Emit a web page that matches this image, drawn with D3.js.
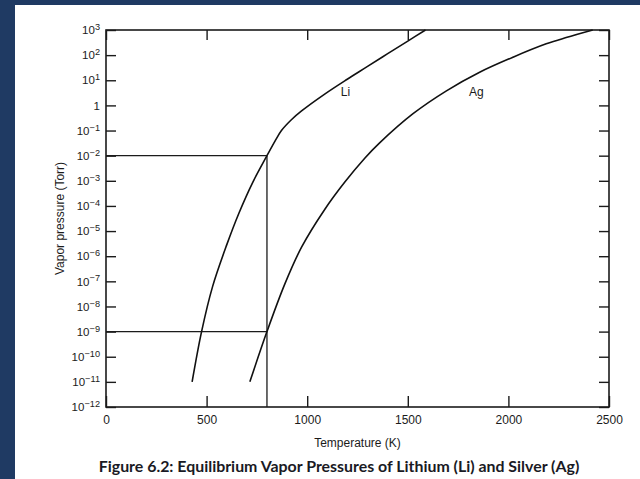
<!DOCTYPE html>
<html>
<head>
<meta charset="utf-8">
<script src="https://cdn.jsdelivr.net/npm/d3@7"></script>
<style>
  html, body { margin: 0; padding: 0; background: #1f3a63; }
  #page { position: absolute; left: 15px; top: 5px; width: 625px; height: 474px; background: #fff; }
  svg { position: absolute; left: 0; top: 0; }
</style>
</head>
<body>
<div id="page"></div>
<svg id="chart" width="640" height="479"></svg>
<script>
// Lithium vapour pressure (K, log10 Torr)
const liTemps = [428, 475, 530, 600, 660, 730, 800, 840, 872, 920, 972, 1087, 1197, 1300, 1400, 1500, 1588];
const liLogP = [-11, -9, -7.2, -5.55, -4.3, -3.05, -2, -1.42, -1.0, -0.58, -0.22, 0.45, 1.03, 1.55, 2.06, 2.56, 3.0];

// Silver vapour pressure (K, log10 Torr)
const agTemps = [715, 800, 889, 972, 1087, 1187, 1286, 1360, 1526, 1692, 1857, 2023, 2188, 2287, 2419];
const agLogP = [-11, -9, -7.1, -5.64, -4.14, -3.05, -2.10, -1.49, -0.33, 0.58, 1.32, 1.92, 2.45, 2.70, 3.0];

// reference lines at 800 K
const guideTemp = 800;
const guidePressures = [1e-2, 1e-9];

// tick values
const xTicks = [0, 500, 1000, 1500, 2000, 2500];
const yExponents = d3.range(-12, 4);

// curve labels
const curveLabels = [
  { name: "Li", temp: 1190, pressure: 3.5 },
  { name: "Ag", temp: 1841, pressure: 3.5 }
];

const margin = { left: 106, right: 31, top: 30, bottom: 72 };
const width = 640, height = 479;
const ink = "#1b1b1b";
const sans = "'Liberation Sans', Arial, sans-serif";

const svg = d3.select("#chart");

const x = d3.scaleLinear()
  .domain([0, 2500])
  .range([margin.left, width - margin.right]);

const y = d3.scaleLog()
  .domain([1e-12, 1e3])
  .range([height - margin.bottom, margin.top]);

const yTickVals = yExponents.map(e => Math.pow(10, e));

// superscript labels for powers of ten
function powerLabel(sel) {
  sel.selectAll(".tick text").each(function(d) {
    const e = Math.round(Math.log10(d));
    const t = d3.select(this).text(null);
    if (e === 0) {
      t.text("1");
    } else {
      t.append("tspan").text("10");
      t.append("tspan")
        .attr("dy", "-0.45em")
        .attr("font-size", "0.8em")
        .text(e < 0 ? "\u2212" + (-e) : e);
    }
  });
}

// left axis, ticks pointing in
svg.append("g")
  .attr("transform", `translate(${margin.left},0)`)
  .call(d3.axisLeft(y).tickValues(yTickVals).tickSizeInner(-10).tickSizeOuter(0).tickPadding(6))
  .call(g => g.select(".domain").remove())
  .call(g => g.selectAll(".tick line").attr("stroke", ink).attr("stroke-width", 1.4))
  .call(g => g.selectAll(".tick text")
    .attr("font-family", sans)
    .attr("font-size", 11.5)
    .attr("fill", ink))
  .call(powerLabel);

// right axis ticks
svg.append("g")
  .attr("transform", `translate(${width - margin.right},0)`)
  .call(d3.axisRight(y).tickValues(yTickVals).tickSizeInner(-10).tickSizeOuter(0).tickFormat(""))
  .call(g => g.select(".domain").remove())
  .call(g => g.selectAll(".tick line").attr("stroke", ink).attr("stroke-width", 1.4));

// bottom axis
svg.append("g")
  .attr("transform", `translate(0,${height - margin.bottom})`)
  .call(d3.axisBottom(x).tickValues(xTicks).tickSizeInner(-11).tickSizeOuter(0).tickPadding(8).tickFormat(d3.format("d")))
  .call(g => g.select(".domain").remove())
  .call(g => g.selectAll(".tick line").attr("stroke", ink).attr("stroke-width", 1.4))
  .call(g => g.selectAll(".tick text")
    .attr("font-family", sans)
    .attr("font-size", 12)
    .attr("fill", ink));

// top axis ticks
svg.append("g")
  .attr("transform", `translate(0,${margin.top})`)
  .call(d3.axisTop(x).tickValues(xTicks).tickSizeInner(-10).tickSizeOuter(0).tickFormat(""))
  .call(g => g.select(".domain").remove())
  .call(g => g.selectAll(".tick line").attr("stroke", ink).attr("stroke-width", 1.4));

// frame
svg.append("rect")
  .attr("x", x(0))
  .attr("y", y(1e3))
  .attr("width", x(2500) - x(0))
  .attr("height", y(1e-12) - y(1e3))
  .attr("fill", "none")
  .attr("stroke", ink)
  .attr("stroke-width", 1.6);

// guide lines at 800 K
const guides = svg.append("g")
  .attr("stroke", ink)
  .attr("stroke-width", 1.3);

guidePressures.forEach(p => {
  guides.append("line")
    .attr("x1", x(0)).attr("x2", x(guideTemp))
    .attr("y1", y(p)).attr("y2", y(p));
});

guides.append("line")
  .attr("x1", x(guideTemp)).attr("x2", x(guideTemp))
  .attr("y1", y(d3.max(guidePressures))).attr("y2", y(1e-12));

// vapour pressure curves
const line = d3.line()
  .x(d => x(d[0]))
  .y(d => y(Math.pow(10, d[1])))
  .curve(d3.curveCatmullRom.alpha(0.5));

[[liTemps, liLogP], [agTemps, agLogP]].forEach(([ts, ps]) => {
  svg.append("path")
    .datum(ts.map((t, i) => [t, ps[i]]))
    .attr("d", line)
    .attr("fill", "none")
    .attr("stroke", "#111")
    .attr("stroke-width", 1.6);
});

svg.selectAll(".curve-label")
  .data(curveLabels)
  .enter()
  .append("text")
  .attr("class", "curve-label")
  .attr("x", d => x(d.temp))
  .attr("y", d => y(d.pressure))
  .attr("dy", "0.35em")
  .attr("text-anchor", "middle")
  .attr("font-family", sans)
  .attr("font-size", 12)
  .attr("fill", ink)
  .text(d => d.name);

// axis titles
svg.append("text")
  .attr("x", (x(0) + x(2500)) / 2)
  .attr("y", 447)
  .attr("text-anchor", "middle")
  .attr("font-family", sans)
  .attr("font-size", 12)
  .attr("fill", ink)
  .text("Temperature (K)");

svg.append("text")
  .attr("transform", `translate(64,${(y(1e3) + y(1e-12)) / 2}) rotate(-90)`)
  .attr("text-anchor", "middle")
  .attr("font-family", sans)
  .attr("font-size", 12)
  .attr("fill", ink)
  .text("Vapor pressure (Torr)");

// caption
svg.append("text")
  .attr("x", 339)
  .attr("y", 472)
  .attr("text-anchor", "middle")
  .attr("font-family", "Lato, 'Open Sans', sans-serif")
  .attr("font-weight", 700)
  .attr("font-size", 15.9)
  .attr("fill", "#1a1a24")
  .text("Figure 6.2: Equilibrium Vapor Pressures of Lithium (Li) and Silver (Ag)");
</script>
</body>
</html>
